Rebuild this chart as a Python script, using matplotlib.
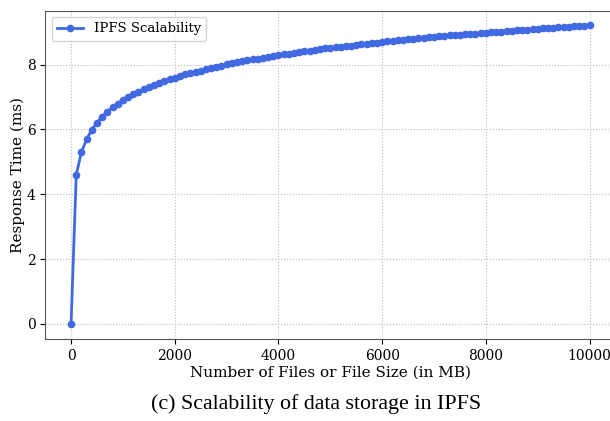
import matplotlib
matplotlib.use("Agg")
import matplotlib.pyplot as plt

# file counts / sizes (MB) and measured response times (ms)
file_sizes = list(range(0, 10001, 100))
response_times = [
    0.00,
    4.61, 5.30, 5.70, 5.99, 6.21, 6.40, 6.55, 6.68, 6.80, 6.91,
    7.00, 7.09, 7.17, 7.24, 7.31, 7.38, 7.44, 7.50, 7.55, 7.60,
    7.65, 7.70, 7.74, 7.78, 7.82, 7.86, 7.90, 7.94, 7.97, 8.01,
    8.04, 8.07, 8.10, 8.13, 8.16, 8.19, 8.22, 8.24, 8.27, 8.29,
    8.32, 8.34, 8.37, 8.39, 8.41, 8.43, 8.46, 8.48, 8.50, 8.52,
    8.54, 8.56, 8.58, 8.59, 8.61, 8.63, 8.65, 8.67, 8.68, 8.70,
    8.72, 8.73, 8.75, 8.76, 8.78, 8.80, 8.81, 8.82, 8.84, 8.85,
    8.87, 8.88, 8.90, 8.91, 8.92, 8.94, 8.95, 8.96, 8.97, 8.99,
    9.00, 9.01, 9.02, 9.04, 9.05, 9.06, 9.07, 9.08, 9.09, 9.11,
    9.12, 9.13, 9.14, 9.15, 9.16, 9.17, 9.18, 9.19, 9.20, 9.21,
]

plt.rcParams['font.family'] = 'DejaVu Serif'

fig = plt.figure(figsize=(6.1, 4.21), dpi=100)
# the axes run a little past the right edge of the figure
ax = fig.add_axes([0.074, 0.195, 0.935, 0.78])

ax.plot(file_sizes, response_times, color='royalblue', marker='o',
        markersize=4.5, linewidth=2, label='IPFS Scalability')

ax.set_xlabel('Number of Files or File Size (in MB)', fontsize=11, labelpad=2)
ax.set_ylabel('Response Time (ms)', fontsize=11, labelpad=1)
ax.tick_params(labelsize=10)
ax.grid(True, linestyle=':', color='#bbbbbb', linewidth=0.8)
for side in ax.spines.values():
    side.set_color('#555555')
ax.spines['right'].set_visible(False)
ax.legend(loc='upper left', fontsize=9.5)

fig.text(0.518, 0.04, '(c) Scalability of data storage in IPFS',
         family='Liberation Serif', fontsize=15.8, ha='center', va='center')

fig.savefig('out.png', dpi=100)
